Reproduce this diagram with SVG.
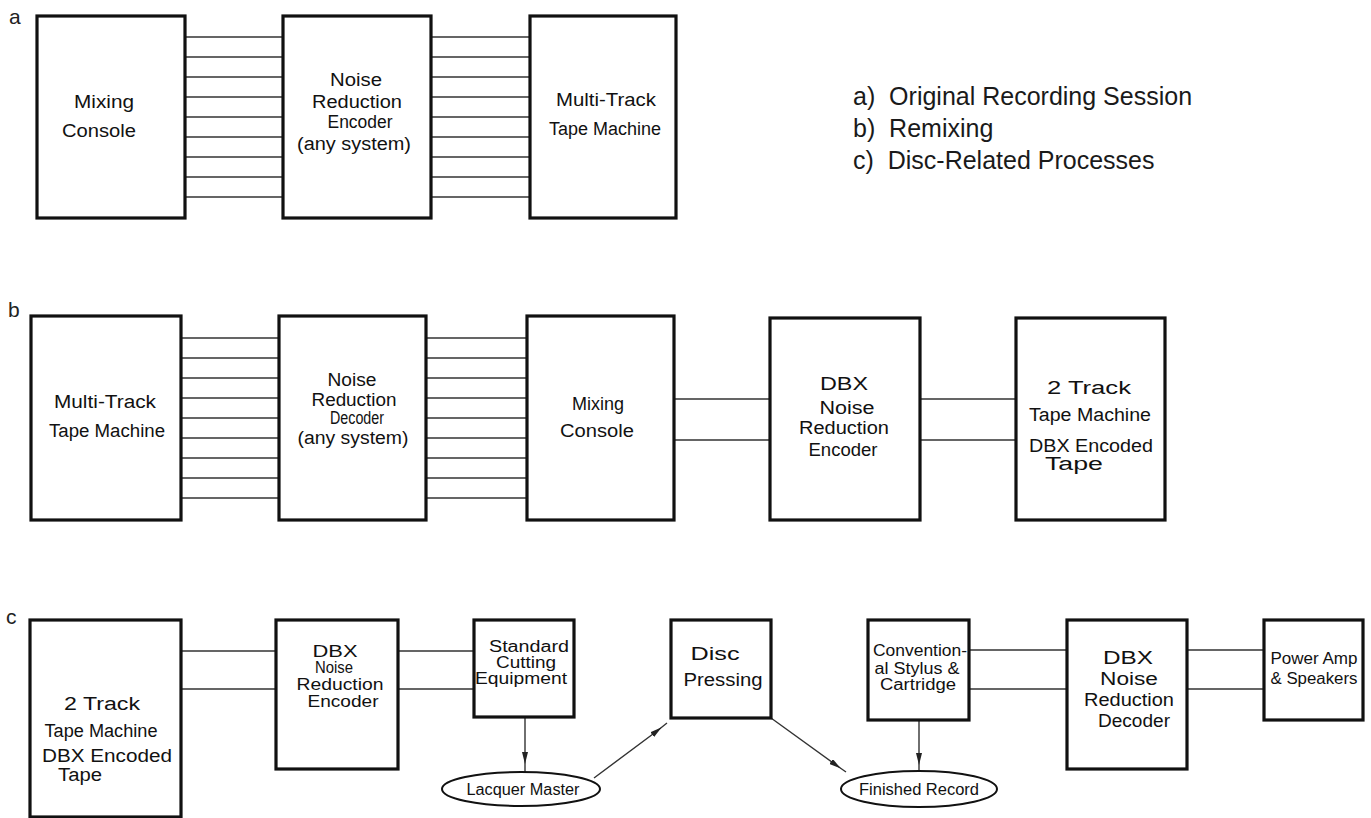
<svg xmlns="http://www.w3.org/2000/svg" width="1371" height="818" viewBox="0 0 1371 818">
<style>
.box{fill:#fff;stroke:#111;stroke-width:3.2}
.ell{fill:#fff;stroke:#111;stroke-width:2}
.ln{stroke:#333;stroke-width:1.4;fill:none}
.ar{stroke:#333;stroke-width:1.4;fill:none;marker-mid:url(#ah)}
.t{font-family:"Liberation Sans Narrow","Liberation Sans",Arial,sans-serif;font-size:18px;fill:#111;text-anchor:middle}
.s{font-size:16px}
.lbl{font-family:"Liberation Sans",Arial,sans-serif;font-size:21px;fill:#222}
.leg{font-family:"Liberation Sans",Arial,sans-serif;font-size:25px;fill:#1a1a1a;white-space:pre}
</style>
<defs>
<marker id="ah" viewBox="0 0 12 6" refX="6" refY="3" markerWidth="12" markerHeight="6" markerUnits="userSpaceOnUse" orient="auto">
<path d="M0,0 L12,3 L0,6 Z" fill="#222"/>
</marker>
</defs>
<rect width="1371" height="818" fill="#fff"/>
<g id="labels">
<text class="lbl" x="9" y="24">a</text>
<text class="lbl" x="8" y="317">b</text>
<text class="lbl" x="6" y="624">c</text>
</g>
<g id="legend">
<text class="leg" x="853" y="105" xml:space="preserve">a)  Original Recording Session</text>
<text class="leg" x="853" y="137" xml:space="preserve">b)  Remixing</text>
<text class="leg" x="853" y="169" xml:space="preserve">c)  Disc-Related Processes</text>
</g>
<g id="connectors">
<path class="ln" d="M185,37H283M185,57H283M185,77H283M185,97H283M185,117H283M185,137H283M185,157H283M185,177H283M185,197H283"/>
<path class="ln" d="M431,37H530M431,57H530M431,77H530M431,97H530M431,117H530M431,137H530M431,157H530M431,177H530M431,197H530"/>
<path class="ln" d="M181,338H279M181,358H279M181,378H279M181,398H279M181,418H279M181,438H279M181,458H279M181,478H279M181,498H279"/>
<path class="ln" d="M426,338H527M426,358H527M426,378H527M426,398H527M426,418H527M426,438H527M426,458H527M426,478H527M426,498H527"/>
<path class="ln" d="M674,399H770M674,440H770M920,399H1016M920,440H1016"/>
<path class="ln" d="M181,651H276M181,689H276M398,651H474M398,689H474"/>
<path class="ln" d="M969,650H1067M969,689H1067M1187,650H1264M1187,689H1264"/>
<path class="ar" d="M525,717 L525,758 L525,772"/>
<path class="ar" d="M594,778 L657,731 L667,723"/>
<path class="ar" d="M771,718 L836,765 L846,772"/>
<path class="ar" d="M919,720 L919,759 L919,770"/>
</g>
<g id="a1"><rect class="box" x="37" y="16" width="148" height="202"/>
<text class="t" x="104" y="108" textLength="60" lengthAdjust="spacingAndGlyphs">Mixing</text>
<text class="t" x="99" y="137" textLength="74" lengthAdjust="spacingAndGlyphs">Console</text></g>
<g id="a2"><rect class="box" x="283" y="16" width="148" height="202"/>
<text class="t" x="356" y="86" textLength="52" lengthAdjust="spacingAndGlyphs">Noise</text>
<text class="t" x="357" y="108" textLength="90" lengthAdjust="spacingAndGlyphs">Reduction</text>
<text class="t" x="360" y="128" textLength="65" lengthAdjust="spacingAndGlyphs">Encoder</text>
<text class="t" x="354" y="150" textLength="114" lengthAdjust="spacingAndGlyphs">(any system)</text></g>
<g id="a3"><rect class="box" x="530" y="16" width="146" height="202"/>
<text class="t" x="606" y="106" textLength="100" lengthAdjust="spacingAndGlyphs">Multi-Track</text>
<text class="t" x="605" y="135" textLength="112" lengthAdjust="spacingAndGlyphs">Tape Machine</text></g>
<g id="b1"><rect class="box" x="31" y="316" width="150" height="204"/>
<text class="t" x="105" y="408" textLength="102" lengthAdjust="spacingAndGlyphs">Multi-Track</text>
<text class="t" x="107" y="437" textLength="116" lengthAdjust="spacingAndGlyphs">Tape Machine</text></g>
<g id="b2"><rect class="box" x="279" y="316" width="147" height="204"/>
<text class="t" x="352" y="386" textLength="49" lengthAdjust="spacingAndGlyphs">Noise</text>
<text class="t" x="354" y="406" textLength="85" lengthAdjust="spacingAndGlyphs">Reduction</text>
<text class="t" x="357" y="424" textLength="54" lengthAdjust="spacingAndGlyphs">Decoder</text>
<text class="t" x="353" y="444" textLength="111" lengthAdjust="spacingAndGlyphs">(any system)</text></g>
<g id="b3"><rect class="box" x="527" y="316" width="147" height="204"/>
<text class="t" x="598" y="410" textLength="52" lengthAdjust="spacingAndGlyphs">Mixing</text>
<text class="t" x="597" y="437" textLength="74" lengthAdjust="spacingAndGlyphs">Console</text></g>
<g id="b4"><rect class="box" x="770" y="318" width="150" height="202"/>
<text class="t" x="844" y="390" textLength="48" lengthAdjust="spacingAndGlyphs">DBX</text>
<text class="t" x="847" y="414" textLength="55" lengthAdjust="spacingAndGlyphs">Noise</text>
<text class="t" x="844" y="434" textLength="90" lengthAdjust="spacingAndGlyphs">Reduction</text>
<text class="t" x="843" y="456" textLength="69" lengthAdjust="spacingAndGlyphs">Encoder</text></g>
<g id="b5"><rect class="box" x="1016" y="318" width="149" height="202"/>
<text class="t" x="1089" y="394" textLength="84" lengthAdjust="spacingAndGlyphs">2 Track</text>
<text class="t" x="1090" y="421" textLength="122" lengthAdjust="spacingAndGlyphs">Tape Machine</text>
<text class="t" x="1091" y="452" textLength="124" lengthAdjust="spacingAndGlyphs">DBX Encoded</text>
<text class="t" x="1074" y="470" textLength="58" lengthAdjust="spacingAndGlyphs">Tape</text></g>
<g id="c1"><rect class="box" x="30" y="620" width="151" height="197"/>
<text class="t" x="102" y="710" textLength="76" lengthAdjust="spacingAndGlyphs">2 Track</text>
<text class="t" x="101" y="737" textLength="113" lengthAdjust="spacingAndGlyphs">Tape Machine</text>
<text class="t" x="107" y="762" textLength="130" lengthAdjust="spacingAndGlyphs">DBX Encoded</text>
<text class="t" x="80" y="781" textLength="44" lengthAdjust="spacingAndGlyphs">Tape</text></g>
<g id="c2"><rect class="box" x="276" y="620" width="122" height="149"/>
<text class="t s" x="335" y="657" textLength="45" lengthAdjust="spacingAndGlyphs">DBX</text>
<text class="t s" x="334" y="673" textLength="38" lengthAdjust="spacingAndGlyphs">Noise</text>
<text class="t s" x="340" y="690" textLength="87" lengthAdjust="spacingAndGlyphs">Reduction</text>
<text class="t s" x="343" y="707" textLength="71" lengthAdjust="spacingAndGlyphs">Encoder</text></g>
<g id="c3"><rect class="box" x="474" y="620" width="100" height="97"/>
<text class="t s" x="529" y="652" textLength="80" lengthAdjust="spacingAndGlyphs">Standard</text>
<text class="t s" x="526" y="668" textLength="60" lengthAdjust="spacingAndGlyphs">Cutting</text>
<text class="t s" x="521" y="684" textLength="92" lengthAdjust="spacingAndGlyphs">Equipment</text></g>
<g id="c4"><rect class="box" x="671" y="620" width="100" height="98"/>
<text class="t" x="715" y="660" textLength="49" lengthAdjust="spacingAndGlyphs">Disc</text>
<text class="t" x="723" y="686" textLength="79" lengthAdjust="spacingAndGlyphs">Pressing</text></g>
<g id="c5"><rect class="box" x="868" y="620" width="101" height="100"/>
<text class="t s" x="920" y="656" textLength="94" lengthAdjust="spacingAndGlyphs">Convention-</text>
<text class="t s" x="917" y="674" textLength="85" lengthAdjust="spacingAndGlyphs">al Stylus &amp;</text>
<text class="t s" x="918" y="690" textLength="76" lengthAdjust="spacingAndGlyphs">Cartridge</text></g>
<g id="c6"><rect class="box" x="1067" y="620" width="120" height="149"/>
<text class="t" x="1128" y="664" textLength="50" lengthAdjust="spacingAndGlyphs">DBX</text>
<text class="t" x="1129" y="685" textLength="58" lengthAdjust="spacingAndGlyphs">Noise</text>
<text class="t" x="1129" y="706" textLength="90" lengthAdjust="spacingAndGlyphs">Reduction</text>
<text class="t" x="1134" y="727" textLength="72" lengthAdjust="spacingAndGlyphs">Decoder</text></g>
<g id="c7"><rect class="box" x="1264" y="620" width="99" height="100"/>
<text class="t s" x="1314" y="664" textLength="87" lengthAdjust="spacingAndGlyphs">Power Amp</text>
<text class="t s" x="1314" y="684" textLength="87" lengthAdjust="spacingAndGlyphs">&amp; Speakers</text></g>
<g id="e1"><ellipse class="ell" cx="521" cy="789" rx="79" ry="17"/>
<text class="t s" x="523" y="795" textLength="113" lengthAdjust="spacingAndGlyphs">Lacquer Master</text></g>
<g id="e2"><ellipse class="ell" cx="919" cy="789" rx="78" ry="18"/>
<text class="t s" x="919" y="795" textLength="120" lengthAdjust="spacingAndGlyphs">Finished Record</text></g>
</svg>
